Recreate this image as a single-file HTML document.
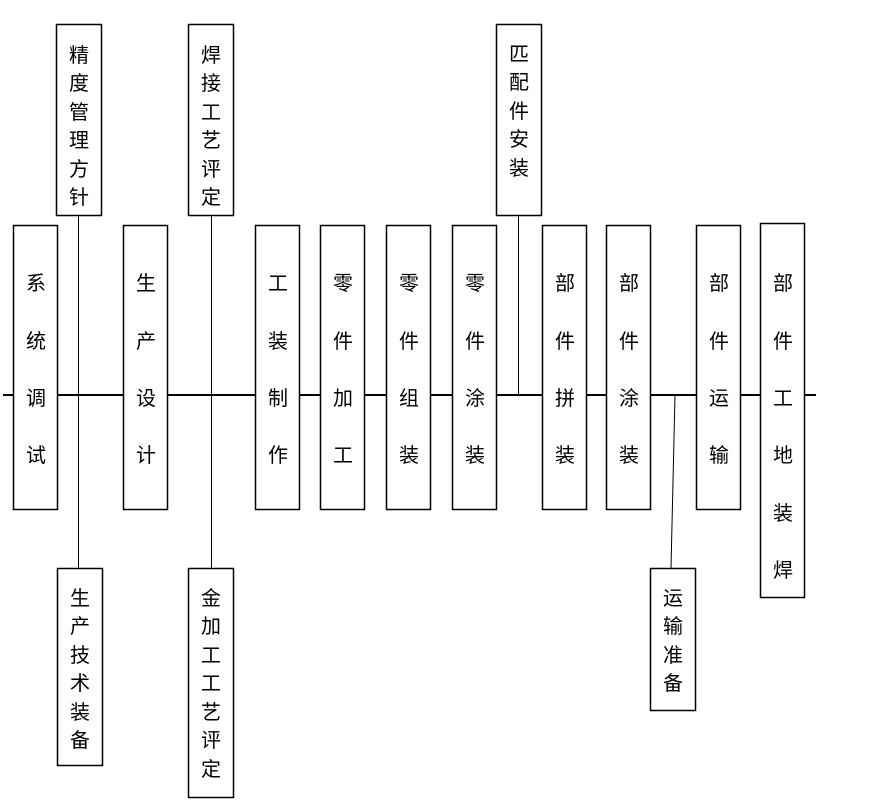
<!DOCTYPE html>
<html><head><meta charset="utf-8"><style>
html,body{margin:0;padding:0;background:#fff;}
svg{display:block;}
text{font-family:"Liberation Sans","Noto Sans CJK SC","WenQuanYi Zen Hei",sans-serif;font-size:20px;fill:#000;text-anchor:middle;dominant-baseline:central;}
</style></head><body>
<svg width="874" height="804" xmlns="http://www.w3.org/2000/svg">
<g stroke="#000" fill="none">
<line x1="3" y1="395" x2="816" y2="395" stroke-width="2"/>
<line x1="78.5" y1="215" x2="78.5" y2="568" stroke-width="1"/>
<line x1="211.5" y1="215" x2="211.5" y2="568" stroke-width="1"/>
<line x1="518.5" y1="215" x2="518.5" y2="395" stroke-width="1"/>
<line x1="675" y1="395" x2="671" y2="568" stroke-width="1"/>
</g>
<g stroke="#000" stroke-width="1.5" fill="#fff">
<rect x="13.5" y="225.5" width="44" height="284"/>
<rect x="123.5" y="225.5" width="44" height="284"/>
<rect x="255.5" y="225.5" width="44" height="284"/>
<rect x="320.5" y="225.5" width="44" height="284"/>
<rect x="386.5" y="225.5" width="44" height="284"/>
<rect x="452.5" y="225.5" width="44" height="284"/>
<rect x="542.5" y="225.5" width="44" height="284"/>
<rect x="606.5" y="225.5" width="44" height="284"/>
<rect x="696.5" y="225.5" width="44" height="284"/>
<rect x="760.5" y="223.5" width="44" height="374"/>
<rect x="56.5" y="24.5" width="45" height="191"/>
<rect x="188.5" y="24.5" width="45" height="191"/>
<rect x="496.5" y="24.5" width="45" height="191"/>
<rect x="57.5" y="568.5" width="45" height="197"/>
<rect x="188.5" y="568.5" width="45" height="229"/>
<rect x="650.5" y="568.5" width="45" height="142"/>
</g>
<g transform="translate(0,2)">
<text x="36" y="282">系</text><text x="36" y="340">统</text><text x="36" y="397">调</text><text x="36" y="454">试</text>
<text x="146" y="282">生</text><text x="146" y="340">产</text><text x="146" y="397">设</text><text x="146" y="454">计</text>
<text x="278" y="282">工</text><text x="278" y="340">装</text><text x="278" y="397">制</text><text x="278" y="454">作</text>
<text x="343" y="282">零</text><text x="343" y="340">件</text><text x="343" y="397">加</text><text x="343" y="454">工</text>
<text x="409" y="282">零</text><text x="409" y="340">件</text><text x="409" y="397">组</text><text x="409" y="454">装</text>
<text x="475" y="282">零</text><text x="475" y="340">件</text><text x="475" y="397">涂</text><text x="475" y="454">装</text>
<text x="565" y="282">部</text><text x="565" y="340">件</text><text x="565" y="397">拼</text><text x="565" y="454">装</text>
<text x="629" y="282">部</text><text x="629" y="340">件</text><text x="629" y="397">涂</text><text x="629" y="454">装</text>
<text x="719" y="282">部</text><text x="719" y="340">件</text><text x="719" y="397">运</text><text x="719" y="454">输</text>
<text x="783" y="282">部</text><text x="783" y="340">件</text><text x="783" y="397">工</text><text x="783" y="454">地</text><text x="783" y="512">装</text><text x="783" y="569">焊</text>
<text x="79" y="54">精</text><text x="79" y="82">度</text><text x="79" y="111">管</text><text x="79" y="139">理</text><text x="79" y="168">方</text><text x="79" y="196">针</text>
<text x="211" y="54">焊</text><text x="211" y="82">接</text><text x="211" y="111">工</text><text x="211" y="139">艺</text><text x="211" y="168">评</text><text x="211" y="196">定</text>
<text x="519" y="53">匹</text><text x="519" y="81">配</text><text x="519" y="110">件</text><text x="519" y="138">安</text><text x="519" y="167">装</text>
<text x="80" y="597">生</text><text x="80" y="625">产</text><text x="80" y="654">技</text><text x="80" y="682">术</text><text x="80" y="711">装</text><text x="80" y="739">备</text>
<text x="211" y="597">金</text><text x="211" y="625">加</text><text x="211" y="654">工</text><text x="211" y="682">工</text><text x="211" y="711">艺</text><text x="211" y="739">评</text><text x="211" y="768">定</text>
<text x="673" y="597">运</text><text x="673" y="625">输</text><text x="673" y="654">准</text><text x="673" y="682">备</text>
</g>
</svg>
</body></html>
